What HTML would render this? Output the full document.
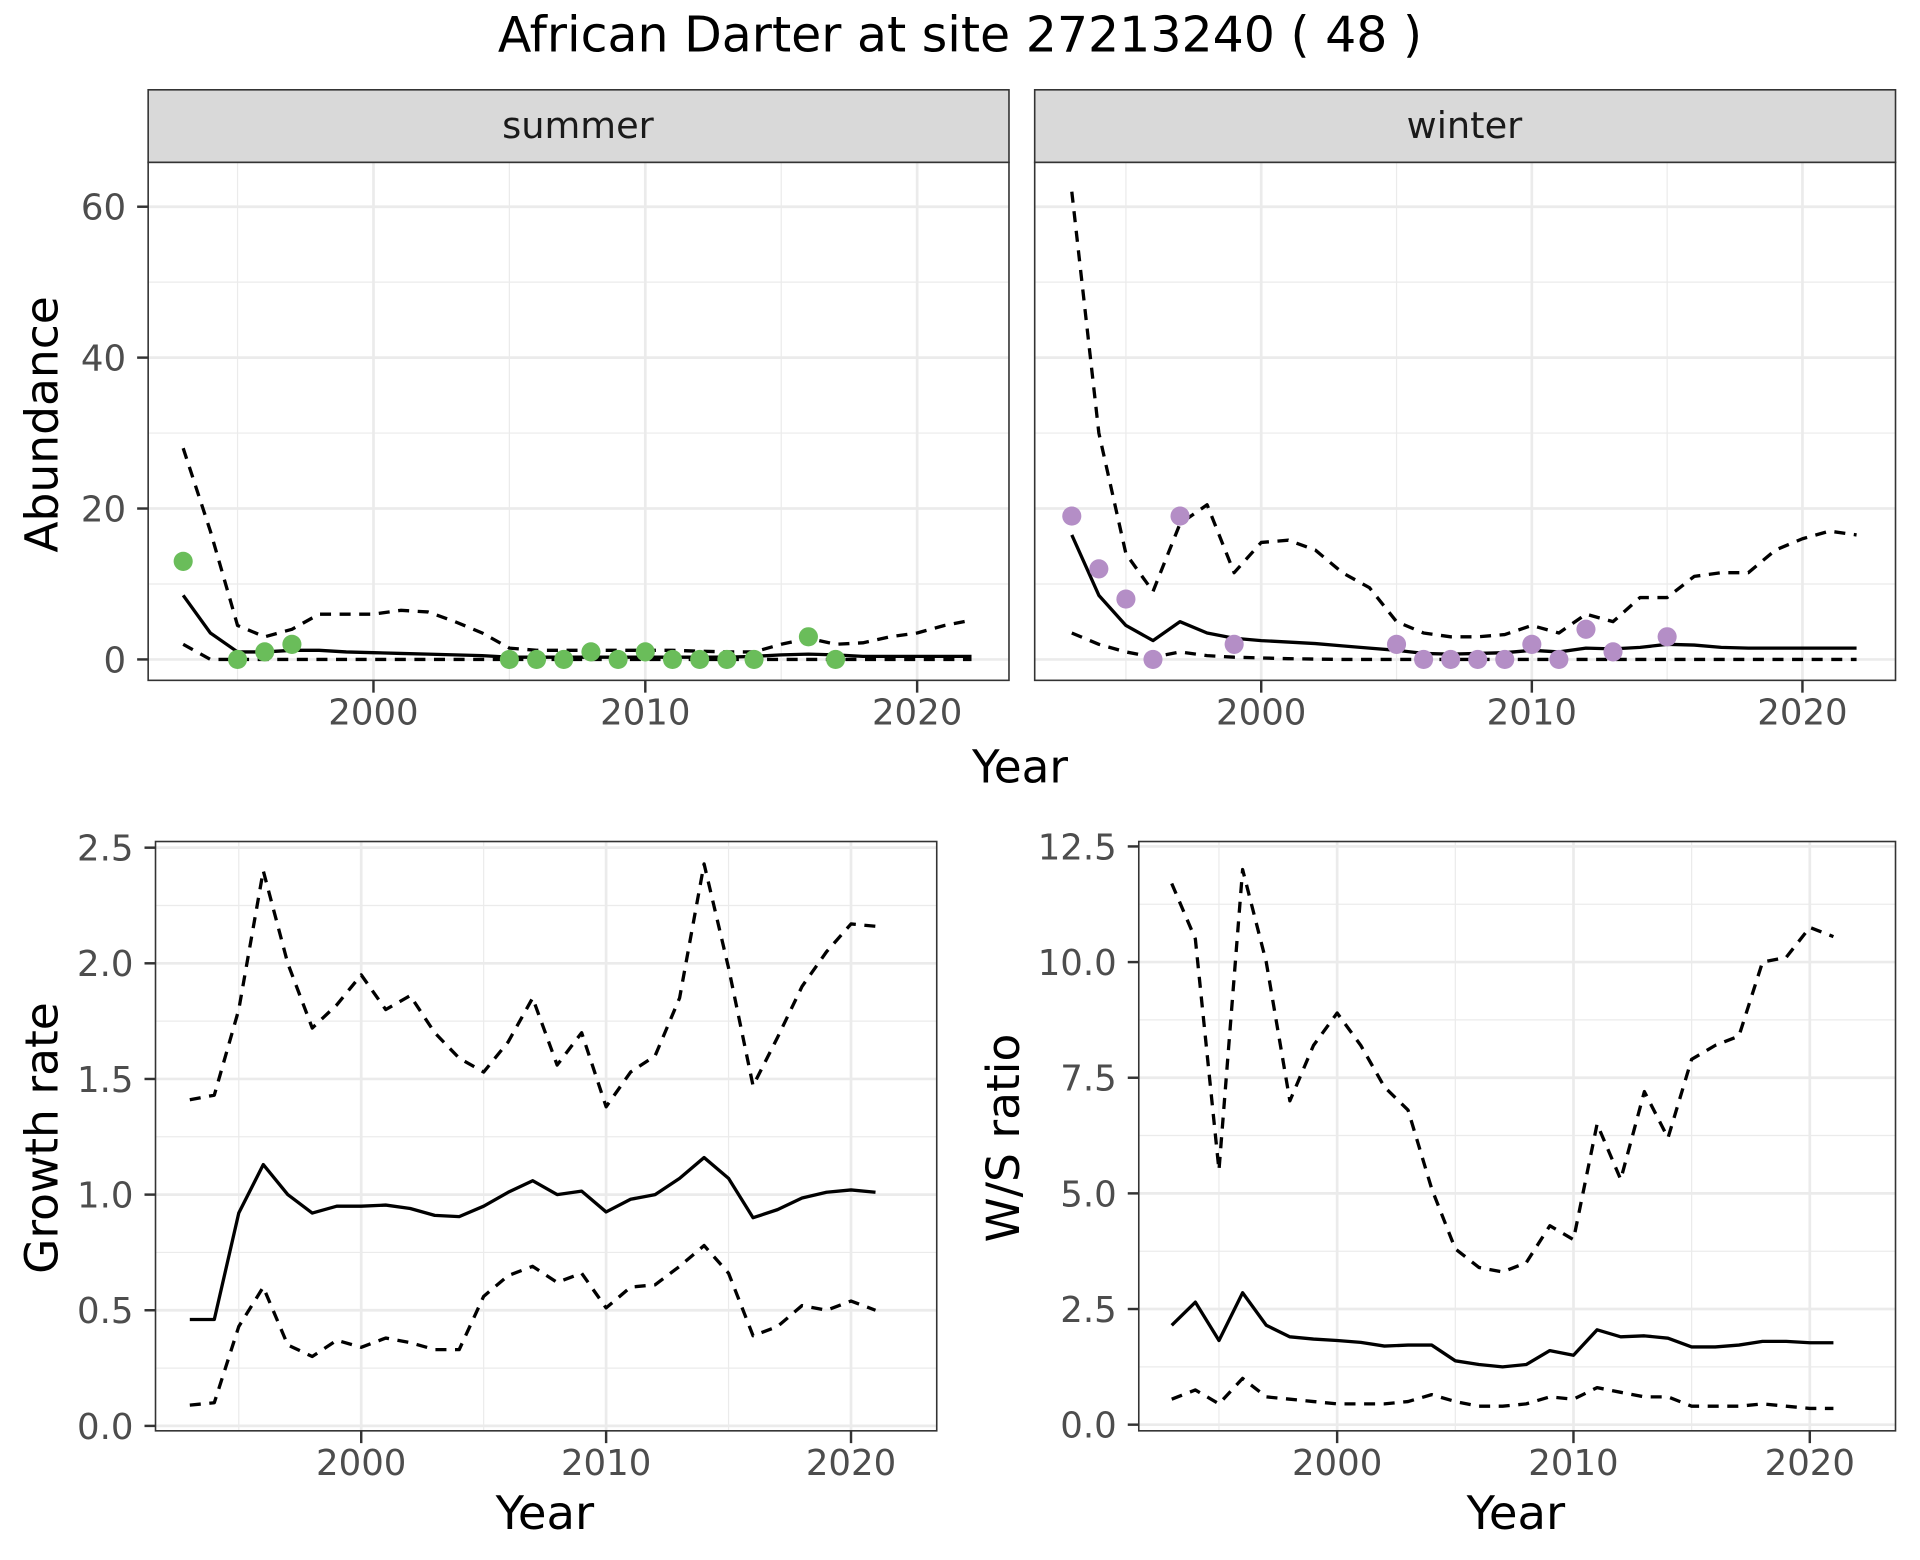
<!DOCTYPE html>
<html><head><meta charset="utf-8"><style>html,body{margin:0;padding:0;background:#fff}svg{display:block}</style></head>
<body>
<svg id="s" xmlns="http://www.w3.org/2000/svg" width="1920" height="1560" viewBox="0 0 1568 1268" preserveAspectRatio="none" font-family="'DejaVu Sans','Liberation Sans',sans-serif"></svg>
<script>
const S=document.getElementById('s');let h='';
h+='<rect width="1568" height="1268" fill="#fff"/>';
h+='<text x="784" y="42" font-size="40" text-anchor="middle" fill="#000">African Darter at site 27213240 ( 48 )</text>';
function pl(pts,dash){return '<polyline fill="none" stroke="#000" stroke-width="2.7" stroke-linejoin="round" '+(dash?'stroke-dasharray="9,7" ':'')+'points="'+pts.map(p=>p[0].toFixed(1)+','+p[1].toFixed(1)).join(' ')+'"/>';}
function panel(o){
 const X=y=>o.x0+(y-2000)*o.kx, Y=v=>o.y0-v*o.ky;
 let g='<rect x="'+o.l+'" y="'+o.t+'" width="'+(o.r-o.l)+'" height="'+(o.b-o.t)+'" fill="#fff"/>';
 o.ymin.forEach(v=>g+='<line x1="'+o.l+'" x2="'+o.r+'" y1="'+Y(v)+'" y2="'+Y(v)+'" stroke="#ebebeb" stroke-width="1"/>');
 o.xmin.forEach(v=>g+='<line y1="'+o.t+'" y2="'+o.b+'" x1="'+X(v)+'" x2="'+X(v)+'" stroke="#ebebeb" stroke-width="1"/>');
 o.ymaj.forEach(v=>g+='<line x1="'+o.l+'" x2="'+o.r+'" y1="'+Y(v)+'" y2="'+Y(v)+'" stroke="#ebebeb" stroke-width="2.2"/>');
 [2000,2010,2020].forEach(v=>g+='<line y1="'+o.t+'" y2="'+o.b+'" x1="'+X(v)+'" x2="'+X(v)+'" stroke="#ebebeb" stroke-width="2.2"/>');
 const yrs=o.start;
 const mk=a=>a.map((v,i)=>[X(yrs+i),Y(v)]);
 g+=pl(mk(o.lo),1)+pl(mk(o.hi),1)+pl(mk(o.mid),0);
 if(o.pts)o.pts.forEach(p=>g+='<circle cx="'+X(p[0])+'" cy="'+Y(p[1])+'" r="7.8" fill="'+o.col+'"/>');
 g+='<rect x="'+o.l+'" y="'+o.t+'" width="'+(o.r-o.l)+'" height="'+(o.b-o.t)+'" fill="none" stroke="#333" stroke-width="1.3"/>';
 if(o.ylab){o.ymaj.forEach((v,i)=>{g+='<line x1="'+(o.l-9)+'" x2="'+o.l+'" y1="'+Y(v)+'" y2="'+Y(v)+'" stroke="#333" stroke-width="2"/><text x="'+(o.l-18)+'" y="'+(Y(v)+10.5)+'" font-size="29" fill="#4d4d4d" text-anchor="end">'+o.ylab[i]+'</text>';});}
 [2000,2010,2020].forEach(v=>g+='<line y1="'+o.b+'" y2="'+(o.b+10)+'" x1="'+X(v)+'" x2="'+X(v)+'" stroke="#333" stroke-width="2"/><text x="'+X(v)+'" y="'+(o.b+36)+'" font-size="29" fill="#4d4d4d" text-anchor="middle">'+v+'</text>');
 return g;}
h+='<rect x="121" y="73" width="703" height="59" fill="#d9d9d9" stroke="#333" stroke-width="1.3"/><text x="472" y="112" font-size="30" text-anchor="middle" fill="#1a1a1a">summer</text>';
h+='<rect x="845" y="73" width="703" height="59" fill="#d9d9d9" stroke="#333" stroke-width="1.3"/><text x="1196" y="112" font-size="30" text-anchor="middle" fill="#1a1a1a">winter</text>';
const sMid=[8.5,3.5,1,1,1.2,1.2,1.0,0.9,0.8,0.7,0.6,0.5,0.3,0.3,0.3,0.3,0.3,0.3,0.3,0.3,0.3,0.4,0.6,0.7,0.6,0.4,0.4,0.4,0.4,0.4];
const sHi=[28,17,4.5,3,4,6,6,6,6.5,6.3,5,3.5,1.5,1.2,1.2,1.2,1.2,1.2,1.2,1.1,1,1,2,2.8,2,2.2,3,3.5,4.5,5.2];
const sLo=[2,0,0,0,0,0,0,0,0,0,0,0,0,0,0,0,0,0,0,0,0,0,0,0,0,0,0,0,0,0];
const sP=[[1993,13],[1995,0],[1996,1],[1997,2],[2005,0],[2006,0],[2007,0],[2008,1],[2009,0],[2010,1],[2011,0],[2012,0],[2013,0],[2014,0],[2016,3],[2017,0]];
h+=panel({l:121,r:824,t:132,b:553,x0:305,kx:22.2,y0:536,ky:6.133,start:1993,ymaj:[0,20,40,60],ymin:[10,30,50],xmin:[1995,2005,2015],ylab:['0','20','40','60'],mid:sMid,hi:sHi,lo:sLo,pts:sP,col:'#6abd5a'});
const wMid=[16.5,8.5,4.5,2.5,5,3.5,2.8,2.5,2.3,2.1,1.8,1.5,1.2,0.8,0.7,0.8,0.9,1.2,1,1.5,1.4,1.6,2,1.9,1.6,1.5,1.5,1.5,1.5,1.5];
const wHi=[62,30,14,9,18,20.5,11.5,15.5,15.8,14.5,11.5,9.5,5,3.5,3,3,3.3,4.5,3.5,6,5,8.2,8.2,11,11.5,11.5,14.5,16,17,16.5];
const wLo=[3.5,2,1,0.3,1,0.5,0.3,0.2,0.1,0.05,0,0,0,0,0,0,0,0,0,0,0,0,0,0,0,0,0,0,0,0];
const wP=[[1993,19],[1994,12],[1995,8],[1996,0],[1997,19],[1999,2],[2005,2],[2006,0],[2007,0],[2008,0],[2009,0],[2010,2],[2011,0],[2012,4],[2013,1],[2015,3]];
h+=panel({l:845,r:1548,t:132,b:553,x0:1030,kx:22.1,y0:536,ky:6.133,start:1993,ymaj:[0,20,40,60],ymin:[10,30,50],xmin:[1995,2005,2015],mid:wMid,hi:wHi,lo:wLo,pts:wP,col:'#b48ec6'});
h+='<text x="833" y="636" font-size="37" text-anchor="middle">Year</text>';
h+='<text transform="translate(47,345) rotate(-90)" font-size="37" text-anchor="middle">Abundance</text>';
const gMid=[.46,.46,.92,1.13,1.0,.92,.95,.95,.955,.94,.91,.905,.95,1.01,1.06,1.0,1.015,.925,.98,1.0,1.07,1.16,1.07,.9,.935,.985,1.01,1.02,1.01];
const gHi=[1.41,1.43,1.8,2.4,2.0,1.72,1.82,1.95,1.8,1.86,1.7,1.59,1.53,1.66,1.85,1.56,1.7,1.38,1.53,1.6,1.85,2.43,1.98,1.47,1.68,1.9,2.05,2.17,2.16];
const gLo=[.09,.1,.43,.6,.35,.3,.37,.34,.38,.36,.33,.33,.56,.65,.69,.62,.66,.51,.6,.61,.69,.78,.66,.39,.43,.52,.5,.54,.5];
h+=panel({l:127,r:765,t:684,b:1163,x0:295,kx:20,y0:1159,ky:188,start:1993,ymaj:[0,.5,1,1.5,2,2.5],ymin:[.25,.75,1.25,1.75,2.25],xmin:[1995,2005,2015],ylab:['0.0','0.5','1.0','1.5','2.0','2.5'],mid:gMid,hi:gHi,lo:gLo});
h+='<text x="445" y="1243" font-size="38" text-anchor="middle">Year</text>';
h+='<text transform="translate(47,925) rotate(-90)" font-size="37" text-anchor="middle">Growth rate</text>';
const rMid=[2.15,2.65,1.82,2.85,2.15,1.9,1.85,1.82,1.78,1.7,1.72,1.72,1.38,1.3,1.25,1.3,1.6,1.5,2.05,1.9,1.92,1.87,1.68,1.68,1.72,1.8,1.8,1.77,1.77];
const rHi=[11.7,10.5,5.5,12,10,7,8.2,8.9,8.2,7.3,6.8,5.1,3.8,3.4,3.3,3.5,4.3,4.0,6.5,5.3,7.2,6.2,7.9,8.2,8.4,10.0,10.1,10.75,10.55];
const rLo=[.55,.75,.45,1.0,.6,.55,.5,.45,.45,.45,.5,.65,.5,.4,.4,.45,.6,.55,.8,.7,.6,.6,.4,.4,.4,.45,.4,.35,.35];
h+=panel({l:930,r:1548,t:684,b:1163,x0:1092,kx:19.3,y0:1158,ky:37.6,start:1993,ymaj:[0,2.5,5,7.5,10,12.5],ymin:[1.25,3.75,6.25,8.75,11.25],xmin:[1995,2005,2015],ylab:['0.0','2.5','5.0','7.5','10.0','12.5'],mid:rMid,hi:rHi,lo:rLo});
h+='<text x="1238" y="1243" font-size="38" text-anchor="middle">Year</text>';
h+='<text transform="translate(832,925) rotate(-90)" font-size="37" text-anchor="middle">W/S ratio</text>';
S.innerHTML=h;
</script>
</body></html>
